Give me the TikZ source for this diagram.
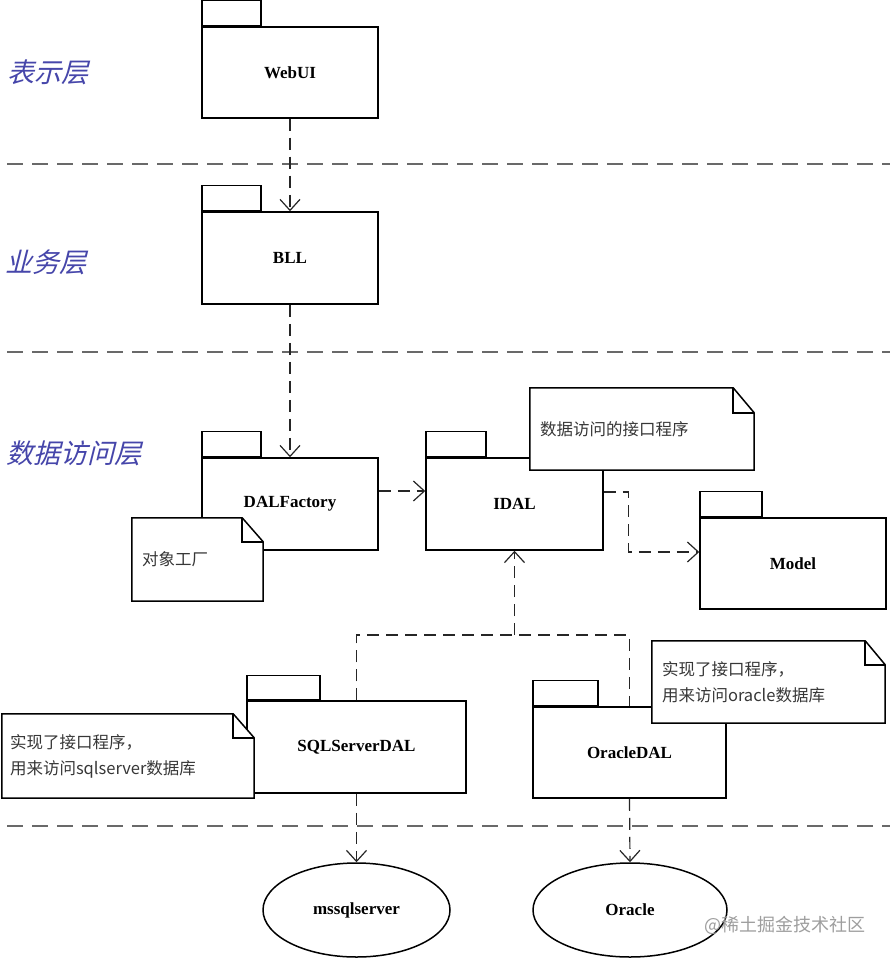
\documentclass[tikz,border=0pt]{standalone}
\usepackage{fontspec}
\setmainfont{Liberation Serif}
\newfontfamily\cjk{Noto Sans CJK SC}
\newfontfamily\cjkslant[FakeSlant=0.25]{Noto Sans CJK SC}
\usetikzlibrary{arrows.meta,shapes.geometric}
\definecolor{layerblue}{RGB}{70,70,170}
\definecolor{divgray}{RGB}{105,105,105}
\definecolor{notetext}{RGB}{55,55,55}
\tikzset{
  pkg/.style={draw, line width=1.5pt, fill=white, inner sep=0pt,
    font=\bfseries\fontsize{17}{20}\selectfont},
  pkgtab/.style={draw, line width=1.5pt, fill=white, inner sep=0pt,
    anchor=south west, minimum height=25pt},
  db/.style={ellipse, draw, line width=1.5pt, fill=white, inner sep=0pt,
    minimum height=94pt, font=\bfseries\fontsize{17}{20}\selectfont},
  dep/.style={draw=black!85, line width=1.2pt, dash pattern=on 12pt off 7pt,
    -{Straight Barb[length=11pt,width=20pt,line width=1.2pt]}},
  depline/.style={draw=black!85, line width=1.2pt, dash pattern=on 12pt off 7pt},
  divider/.style={draw=divgray, line width=2.2pt, dash pattern=on 16pt off 9pt},
  notebase/.style={inner sep=0pt, draw=none},
  noteline/.style={draw, line width=1.5pt, fill=white, line join=miter},
  notetxt/.style={anchor=west, inner sep=0pt, align=left, text=notetext,
    font=\cjk\fontsize{16.5}{26}\selectfont},
  layer/.style={anchor=west, inner sep=0pt, text=layerblue,
    font=\cjkslant\fontsize{27}{30}\selectfont},
}
\newcommand{\drawnote}[3]{% name, fold x, fold y
  \draw[noteline] (#1.north west) -- ([xshift=-#2]#1.north east)
    -- ([yshift=-#3]#1.north east) -- (#1.south east) -- (#1.south west) -- cycle;
  \draw[line width=1.5pt, line join=miter] ([xshift=-#2]#1.north east)
    -- ([xshift=-#2,yshift=-#3]#1.north east) -- ([yshift=-#3]#1.north east);
}
\begin{document}
\begin{tikzpicture}[x=1pt,y=-1pt]
\useasboundingbox[fill=white] (0,0) rectangle (890,960);

% layer dividers
\draw[divider] (7,164) -- (890,164);
\draw[divider] (7,352) -- (890,352);
\draw[divider] (7,826) -- (890,826);

% layer labels
\node[layer] (lay1) at (7,72) {表示层};
\node[layer] (lay2) at (5,262) {业务层};
\node[layer] (lay3) at (6,453) {数据访问层};

% packages
\node[pkg, minimum width=176pt, minimum height=91pt] (webui) at (290,72.5) {WebUI};
\node[pkgtab, minimum width=59pt] (webuitab) at (webui.north west) {};

\node[pkg, minimum width=176pt, minimum height=92pt] (bll) at (290,258) {BLL};
\node[pkgtab, minimum width=59pt] (blltab) at (bll.north west) {};

\node[pkg, minimum width=176pt, minimum height=92pt] (dalf) at (290,504) {DALFactory};
\node[pkgtab, minimum width=59pt] (dalftab) at (dalf.north west) {};

\node[pkg, minimum width=177pt, minimum height=92pt] (idal) at (514.5,504) {IDAL};
\node[pkgtab, minimum width=60pt] (idaltab) at (idal.north west) {};

\node[pkg, minimum width=186pt, minimum height=91pt] (model) at (793,563.5) {Model};
\node[pkgtab, minimum width=62pt] (modeltab) at (model.north west) {};

\node[pkg, minimum width=219pt, minimum height=92pt] (sql) at (356.5,747) {SQLServerDAL};
\node[pkgtab, minimum width=73pt, minimum height=24pt] (sqltab) at (sql.north west) {};

\node[pkg, minimum width=193pt, minimum height=91pt] (ora) at (629.5,752.5) {OracleDAL};
\node[pkgtab, minimum width=65pt] (oratab) at (ora.north west) {};

% databases
\node[db, minimum width=187pt] (mssql) at (356.5,910) {mssqlserver};
\node[db, minimum width=194pt] (oradb) at (630,910) {Oracle};

% dependencies
\draw[dep] (webui.south) -- (bll.north);
\draw[dep] (bll.south) -- (dalf.north);
\draw[dep] ([yshift=13pt]dalf.east) -- ([yshift=13pt]idal.west);
\draw[dep] ([yshift=12pt]idal.east) -- ++(25,0) |- ([yshift=11.5pt]model.west);
\coordinate (junc) at (514.5,635);
\draw[depline] (sql.north) |- (junc) -| (ora.north);
\draw[dep] (junc) -- (idal.south);
\draw[dep] (sql.south) -- (mssql.north);
\draw[dep] (ora.south) -- (oradb.north);

% notes
\node[notebase, minimum width=131pt, minimum height=83pt] (note1) at (197.5,559.5) {};
\drawnote{note1}{21pt}{24pt}
\node[notetxt] (note1t) at ([xshift=10pt]note1.west) {对象工厂};

\node[notebase, minimum width=224pt, minimum height=82pt] (note2) at (642,429) {};
\drawnote{note2}{21pt}{25pt}
\node[notetxt] (note2t) at ([xshift=10pt]note2.west) {数据访问的接口程序};

\node[notebase, minimum width=252pt, minimum height=84pt] (note3) at (128,756) {};
\drawnote{note3}{21pt}{24pt}
\node[notetxt] (note3t) at ([xshift=8pt]note3.west) {实现了接口程序，\\用来访问sqlserver数据库};

\node[notebase, minimum width=233pt, minimum height=82pt] (note4) at (768.5,682) {};
\drawnote{note4}{20pt}{24pt}
\node[notetxt] (note4t) at ([xshift=10pt]note4.west) {实现了接口程序，\\用来访问oracle数据库};

% watermark
\node[anchor=west, inner sep=0pt, text=black!38, font=\cjk\fontsize{18}{20}\selectfont] (wm) at (704,925) {@稀土掘金技术社区};
\end{tikzpicture}
\end{document}
